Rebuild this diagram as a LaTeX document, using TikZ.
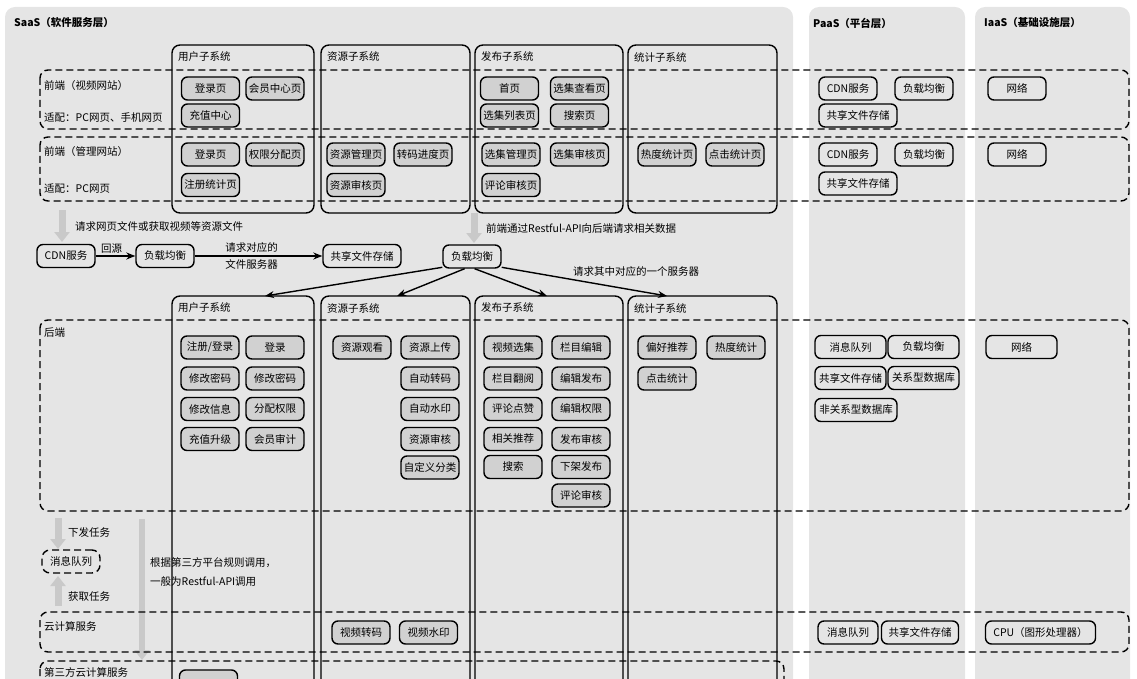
\documentclass[tikz,border=0pt]{standalone}
\usepackage{fontspec}
\setmainfont{Noto Sans CJK SC}
\usetikzlibrary{arrows.meta}

\definecolor{panelgray}{gray}{0.9}
\definecolor{boxgray}{gray}{0.82}
\definecolor{arrowgray}{gray}{0.79}
\newcommand{\diagfont}{\fontsize{10.5}{12.5}\selectfont}

\tikzset{
  layer/.style={fill=panelgray, rounded corners=10pt},
  sub/.style={draw, line width=1.4pt, rounded corners=8pt},
  zone/.style={draw, line width=1.4pt, dash pattern=on 7pt off 4pt, rounded corners=8pt},
  mod/.style={draw, line width=1.4pt, rounded corners=6pt, fill=boxgray,
    minimum width=58pt, minimum height=23pt, inner sep=0pt, font=\diagfont},
  svc/.style={mod, fill=none},
  lbl/.style={anchor=west, inner sep=0pt, font=\diagfont},
  title/.style={lbl, font=\diagfont\bfseries},
  bigarrow/.style={draw=arrowgray, line width=7pt, -{Triangle[length=10pt,width=15pt]}},
  flow/.style={line width=1.4pt, -{Stealth[length=9pt,width=7pt]}},
}

\begin{document}
\begin{tikzpicture}[x=1pt,y=-1pt]
\clip (0,0) rectangle (1137,679);

% layers
\fill[layer] (5,7) rectangle (793,720);
\fill[layer] (809,7) rectangle (965,720);
\fill[layer] (975,7) rectangle (1130,720);
\node[title] (tSaaS) at (14,23) {SaaS（软件服务层）};
\node[title] (tPaaS) at (813,23) {PaaS（平台层）};
\node[title] (tIaaS) at (984,23) {IaaS（基础设施层）};

% front-end subsystems
\draw[sub] (172,45) rectangle (314,213);
\draw[sub] (321,45) rectangle (470,213);
\draw[sub] (475,45) rectangle (623,213);
\draw[sub] (628,45) rectangle (777,213);
\node[lbl] (fU) at (178,57) {用户子系统};
\node[lbl] (fR) at (327,57) {资源子系统};
\node[lbl] (fP) at (481,57) {发布子系统};
\node[lbl] (fS) at (634,57) {统计子系统};

\draw[zone] (40,70) rectangle (1129,129);
\draw[zone] (40,137) rectangle (1129,201);
\node[lbl] (webA) at (44,86) {前端（视频网站）};
\node[lbl] (webB) at (44,118) {适配：PC网页、手机网页};
\node[lbl] (admA) at (44,152) {前端（管理网站）};
\node[lbl] (admB) at (44,189) {适配：PC网页};

% video website
\node[mod] (w1) at (210.5,88.5) {登录页};
\node[mod] (w2) at (275,88.5) {会员中心页};
\node[mod] (w3) at (210.5,115.5) {充值中心};
\node[mod] (w4) at (509.5,88.5) {首页};
\node[mod] (w5) at (579.5,88.5) {选集查看页};
\node[mod] (w6) at (509.5,115.5) {选集列表页};
\node[mod] (w7) at (579.5,115.5) {搜索页};
\node[svc] (w8) at (848,88.5) {CDN服务};
\node[svc] (w9) at (924,88.5) {负载均衡};
\node[svc, minimum width=78pt] (w10) at (858,115.5) {共享文件存储};
\node[svc] (w11) at (1017,88.5) {网络};

% admin website
\node[mod] (m1) at (210.5,154.5) {登录页};
\node[mod] (m2) at (275,154.5) {权限分配页};
\node[mod] (m3) at (210.5,185) {注册统计页};
\node[mod] (m4) at (356,154.5) {资源管理页};
\node[mod] (m5) at (423,154.5) {转码进度页};
\node[mod] (m6) at (356,185) {资源审核页};
\node[mod] (m7) at (511,154.5) {选集管理页};
\node[mod] (m8) at (579.5,154.5) {选集审核页};
\node[mod] (m9) at (511,185) {评论审核页};
\node[mod] (m10) at (667,154.5) {热度统计页};
\node[mod] (m11) at (735,154.5) {点击统计页};
\node[svc] (m12) at (848,154.5) {CDN服务};
\node[svc] (m13) at (924,154.5) {负载均衡};
\node[svc, minimum width=78pt] (m14) at (858,183.5) {共享文件存储};
\node[svc] (m15) at (1017,154.5) {网络};

% requests
\coordinate (gA1) at (62,210);
\coordinate (gA2) at (62,242);
\draw[bigarrow] (gA1) -- (gA2);
\node[lbl] (reqA) at (75,226) {请求网页文件或获取视频等资源文件};
\coordinate (gB1) at (474,213);
\coordinate (gB2) at (474,243);
\draw[bigarrow] (gB1) -- (gB2);
\node[lbl] (reqB) at (486,228) {前端通过Restful-API向后端请求相关数据};

\node[svc] (cdn) at (66,256) {CDN服务};
\node[svc] (lb1) at (165,256) {负载均衡};
\node[svc, minimum width=78pt] (share1) at (362,256) {共享文件存储};
\node[svc] (lb2) at (472,256.5) {负载均衡};

\draw[flow] (cdn) -- (lb1) node[midway, above=1pt, xshift=-4pt, font=\diagfont, inner sep=1pt] {回源};
\draw[flow] (lb1) -- (share1)
  node[midway, above=2pt, xshift=-7pt, font=\diagfont, inner sep=1pt] {请求对应的}
  node[midway, below=2pt, xshift=-7pt, font=\diagfont, inner sep=1pt] {文件服务器};

\coordinate (tU) at (265,296);
\coordinate (tR) at (397,296);
\coordinate (tP) at (547,296);
\coordinate (tS) at (667,296);
\draw[flow] (lb2.200) -- (tU);
\draw[flow] (lb2.239) -- (tR);
\draw[flow] (lb2.282) -- (tP);
\draw[flow] (lb2.340) -- (tS);
\node[lbl] (reqC) at (573,272) {请求其中对应的一个服务器};

% back-end subsystems
\draw[sub] (172,296) rectangle (314,720);
\draw[sub] (321,296) rectangle (470,720);
\draw[sub] (475,296) rectangle (623,720);
\draw[sub] (628,296) rectangle (777,720);
\node[lbl] (bU) at (178,308) {用户子系统};
\node[lbl] (bR) at (327,308) {资源子系统};
\node[lbl] (bP) at (481,308) {发布子系统};
\node[lbl] (bS) at (634,308) {统计子系统};

% task arrows
\coordinate (gC1) at (58,518);
\coordinate (gC2) at (58,549);
\draw[bigarrow] (gC1) -- (gC2);
\coordinate (gD1) at (58,606);
\coordinate (gD2) at (58,576);
\draw[bigarrow] (gD1) -- (gD2);
\coordinate (gE1) at (142,519);
\coordinate (gE2) at (142,660);
\draw[bigarrow, line width=6pt] (gE1) -- (gE2);
\node[lbl] (taskA) at (68,532) {下发任务};
\node[lbl] (taskB) at (68,597) {获取任务};
\node[lbl] (ruleA) at (150,563) {根据第三方平台规则调用，};
\node[lbl] (ruleB) at (150,582) {一般为Restful-API调用};

\draw[zone] (40,320) rectangle (1129,511);
\node[lbl] (beLbl) at (44,333) {后端};

% back-end user
\node[mod] (b1) at (210,347.5) {注册/登录};
\node[mod] (b2) at (275,347.5) {登录};
\node[mod] (b3) at (210,378.5) {修改密码};
\node[mod] (b4) at (275,378.5) {修改密码};
\node[mod] (b5) at (210,409) {修改信息};
\node[mod] (b6) at (275,409) {分配权限};
\node[mod] (b7) at (210,439) {充值升级};
\node[mod] (b8) at (275,439) {会员审计};
% back-end resource
\node[mod] (b9) at (362,347.5) {资源观看};
\node[mod] (b10) at (430,347.5) {资源上传};
\node[mod] (b11) at (430,378.5) {自动转码};
\node[mod] (b12) at (430,409) {自动水印};
\node[mod] (b13) at (430,439) {资源审核};
\node[mod] (b14) at (430,467.5) {自定义分类};
% back-end publish
\node[mod] (b15) at (513,347.5) {视频选集};
\node[mod] (b16) at (513,378.5) {栏目翻阅};
\node[mod] (b17) at (513,409) {评论点赞};
\node[mod] (b18) at (513,439) {相关推荐};
\node[mod] (b19) at (513,467) {搜索};
\node[mod] (b20) at (581,347.5) {栏目编辑};
\node[mod] (b21) at (581,378.5) {编辑发布};
\node[mod] (b22) at (581,409) {编辑权限};
\node[mod] (b23) at (581,439) {发布审核};
\node[mod] (b24) at (581,467) {下架发布};
\node[mod] (b25) at (581,495.5) {评论审核};
% back-end statistics
\node[mod] (b26) at (667,347.5) {偏好推荐};
\node[mod] (b27) at (736,347.5) {热度统计};
\node[mod] (b28) at (667,378.5) {点击统计};
% back-end platform
\node[svc, minimum width=71pt] (b29) at (850.5,347) {消息队列};
\node[svc, minimum width=71pt] (b30) at (923.5,347) {负载均衡};
\node[svc, minimum width=71pt] (b31) at (850.5,378) {共享文件存储};
\node[svc, minimum width=71pt] (b32) at (923.5,378) {关系型数据库};
\node[svc, minimum width=82pt] (b33) at (856,410) {非关系型数据库};
\node[svc, minimum width=71pt] (b34) at (1021.5,347) {网络};

% queue
\node[mod, zone, fill=none] (mq) at (71,561.5) {消息队列};

% cloud computing
\draw[zone] (40,612) rectangle (1129,652);
\node[lbl] (ccLbl) at (44,626) {云计算服务};
\node[mod] (c1) at (361,632.5) {视频转码};
\node[mod] (c2) at (428.5,632.5) {视频水印};
\node[svc, minimum width=60pt] (c3) at (848,632.5) {消息队列};
\node[svc, minimum width=77pt] (c4) at (920,632.5) {共享文件存储};
\node[svc, minimum width=110pt] (c5) at (1040.5,632.5) {CPU（图形处理器）};

% third-party cloud
\draw[zone] (40,661) rectangle (784,720);
\node[lbl] (tpLbl) at (44,672) {第三方云计算服务};
\node[mod] (tp1) at (208.5,681.5) {};
\end{tikzpicture}
\end{document}
